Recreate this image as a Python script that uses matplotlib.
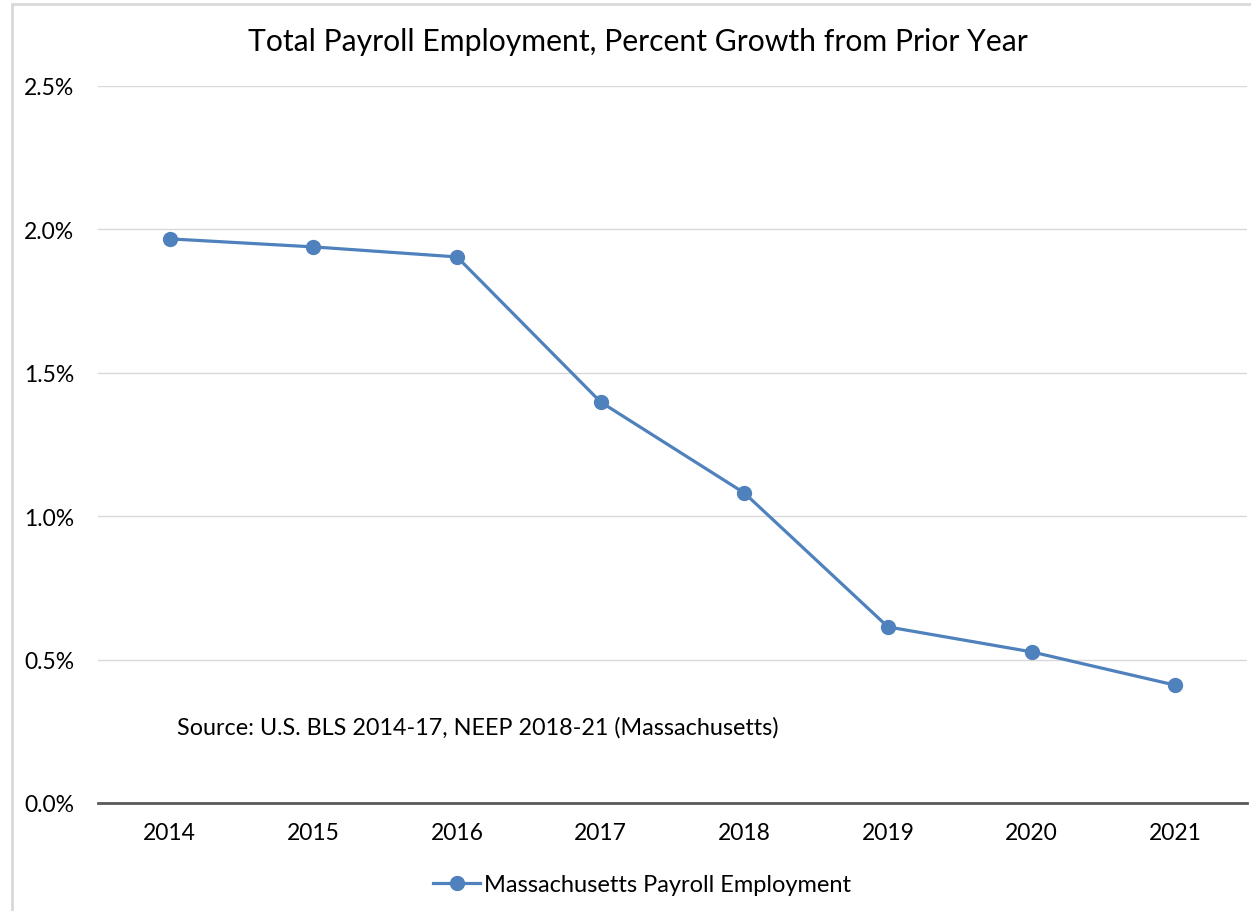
import matplotlib
matplotlib.use("Agg")
import matplotlib.pyplot as plt
from matplotlib.patches import Rectangle

years = ["2014", "2015", "2016", "2017", "2018", "2019", "2020", "2021"]
growth = [1.967, 1.939, 1.904, 1.398, 1.081, 0.614, 0.527, 0.411]  # percent
yticks = [0.0, 0.5, 1.0, 1.5, 2.0, 2.5]

plt.rcParams['font.family'] = ['Lato', 'DejaVu Sans']

fig = plt.figure(figsize=(12.51, 9.12), dpi=100)
ax = fig.add_axes([98 / 1251, 108 / 912, 1149 / 1251, 717 / 912])

# chart area border (cropped at right and bottom)
fig.patches.append(Rectangle((12 / 1251, -0.1), 1.2, 0.1 + 907 / 912,
                             transform=fig.transFigure, fill=False,
                             edgecolor="#D9D9D9", linewidth=2))

x = range(len(years))
ax.plot(x, growth, color="#4F81BD", linewidth=2.3, marker="o", markersize=10,
        label="Massachusetts Payroll Employment")

ax.set_xlim(-0.5, len(years) - 0.5)
ax.set_ylim(0, 2.5)
ax.set_yticks(yticks)
ax.set_yticklabels([f"{v:.1f}%" for v in yticks])
ax.set_xticks(list(x))
ax.set_xticklabels(years)
ax.tick_params(length=0, labelsize=16.5, colors="black")
ax.tick_params(axis="y", pad=17)
ax.tick_params(axis="x", pad=14)

ax.grid(axis="y", color="#D9D9D9", linewidth=1)
ax.set_axisbelow(True)
for s in ["top", "right", "left"]:
    ax.spines[s].set_visible(False)
ax.spines["bottom"].set_color("#595959")
ax.spines["bottom"].set_linewidth(2)
ax.spines["bottom"].set_zorder(1)

fig.text(638 / 1251, 1 - 42 / 912, "Total Payroll Employment, Percent Growth from Prior Year",
         ha="center", va="center", fontsize=21.7)
fig.text(177 / 1251, 1 - 728 / 912, "Source: U.S. BLS 2014-17, NEEP 2018-21 (Massachusetts)",
         ha="left", va="center", fontsize=16.8)

fig.legend(loc="center", bbox_to_anchor=(642 / 1251, 1 - 886 / 912), frameon=False,
           fontsize=17, handlelength=2.0, handletextpad=0.15)

fig.savefig("out.png", dpi=100)
